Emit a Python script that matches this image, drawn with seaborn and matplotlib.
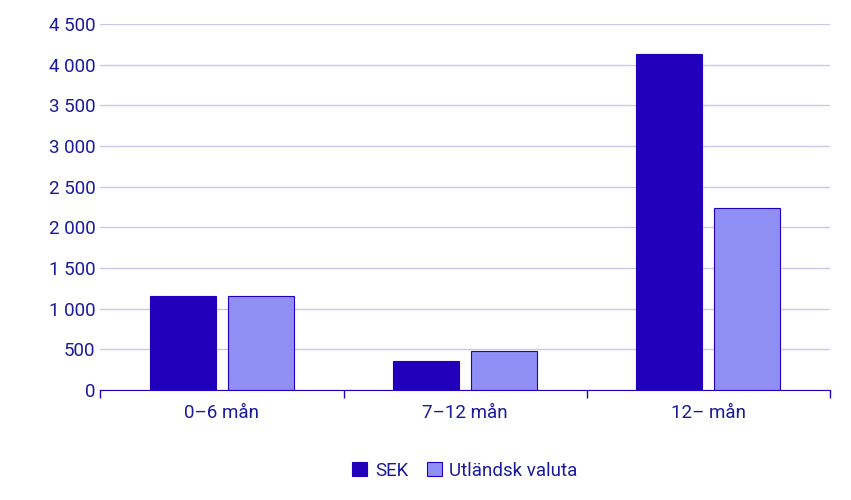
import pandas as pd
import matplotlib.pyplot as plt
import seaborn as sns
from matplotlib.ticker import FuncFormatter, FixedLocator

categories = ["0–6 mån", "7–12 mån", "12– mån"]
sek = [1160, 360, 4130]
utl = [1160, 480, 2240]
series = ["SEK", "Utländsk valuta"]

df = pd.DataFrame({
    "kat": categories * 2,
    "serie": [series[0]] * 3 + [series[1]] * 3,
    "varde": sek + utl,
})

sns.set_style("white")
plt.rcParams['font.family'] = ['Roboto', 'DejaVu Sans']
txt = "#1a1a9a"

fig, ax = plt.subplots(figsize=(8.51, 5), dpi=100)
sns.barplot(data=df, x="kat", y="varde", hue="serie",
            palette=["#2200bb", "#8f8ff5"], saturation=1, width=0.64, gap=0.15,
            edgecolor="#2200bb", linewidth=0.8, ax=ax)

ax.set_ylim(0, 4500)
ax.set_xlim(-0.5, 2.5)
ax.set_yticks(range(0, 4501, 500))
ax.yaxis.set_major_formatter(FuncFormatter(lambda v, p: f"{int(v):,}".replace(",", " ")))
ax.grid(axis="y", color="#c8c8e8", linewidth=1)
ax.set_axisbelow(True)
for s in ["top", "right", "left"]:
    ax.spines[s].set_visible(False)
ax.spines["bottom"].set_color("#2200bb")
ax.tick_params(axis="x", which="major", length=0, labelsize=13.5, colors=txt, pad=10)
ax.xaxis.set_minor_locator(FixedLocator([-0.5, 0.5, 1.5, 2.5]))
ax.tick_params(axis="x", which="minor", bottom=True, length=6, width=1, color="#2200bb")
ax.tick_params(axis="y", length=0, labelsize=13.5, colors=txt)
ax.set_xlabel("")
ax.set_ylabel("")

ax.legend(loc="upper center", bbox_to_anchor=(0.5, -0.15), ncol=2, frameon=False,
          fontsize=13.5, handlelength=0.8, handleheight=0.8, columnspacing=1.0,
          handletextpad=0.4, labelcolor=txt)

plt.subplots_adjust(left=0.118, right=0.975, top=0.952, bottom=0.22)
plt.savefig("out.png")
